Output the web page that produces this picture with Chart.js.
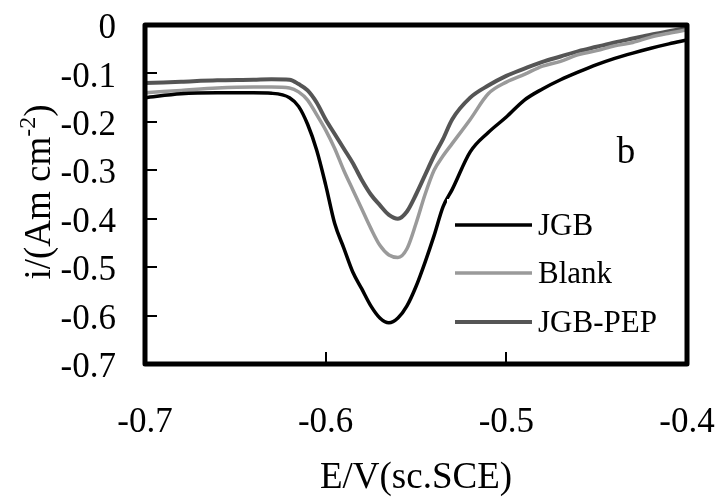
<!DOCTYPE html>
<html><head><meta charset="utf-8">
<script src="https://cdn.jsdelivr.net/npm/chart.js@4/dist/chart.umd.min.js"></script>
<style>html,body{margin:0;padding:0;background:#fff;}#wrap{width:718px;height:497px;}</style>
</head><body><div id="wrap"><canvas id="c" width="718" height="497"></canvas></div>
<script>
const potential = [-0.70,-0.68,-0.66,-0.64,-0.63,-0.62,-0.615,-0.61,-0.605,-0.60,-0.595,-0.59,-0.585,-0.58,-0.575,-0.57,-0.565,-0.56,-0.555,-0.55,-0.545,-0.54,-0.535,-0.53,-0.52,-0.51,-0.50,-0.49,-0.48,-0.47,-0.46,-0.45,-0.44,-0.43,-0.42,-0.41,-0.40];
const jgb = [-0.150,-0.142,-0.140,-0.140,-0.141,-0.150,-0.168,-0.205,-0.258,-0.330,-0.410,-0.460,-0.510,-0.545,-0.580,-0.605,-0.615,-0.605,-0.580,-0.540,-0.490,-0.435,-0.375,-0.340,-0.262,-0.222,-0.190,-0.155,-0.132,-0.113,-0.097,-0.082,-0.069,-0.058,-0.048,-0.039,-0.031];
const blank = [-0.140,-0.135,-0.130,-0.128,-0.128,-0.130,-0.138,-0.155,-0.185,-0.217,-0.255,-0.300,-0.340,-0.380,-0.420,-0.455,-0.475,-0.480,-0.462,-0.410,-0.350,-0.300,-0.270,-0.245,-0.195,-0.142,-0.118,-0.102,-0.085,-0.075,-0.061,-0.053,-0.043,-0.036,-0.025,-0.017,-0.010];
const jgbPep = [-0.120,-0.117,-0.114,-0.113,-0.112,-0.113,-0.122,-0.135,-0.160,-0.195,-0.225,-0.255,-0.285,-0.320,-0.350,-0.372,-0.392,-0.400,-0.385,-0.350,-0.310,-0.270,-0.235,-0.195,-0.150,-0.125,-0.105,-0.090,-0.076,-0.065,-0.054,-0.045,-0.036,-0.028,-0.020,-0.013,-0.006];
const seriesNames = ['JGB','Blank','JGB-PEP'];
const xTicks = [-0.7,-0.6,-0.5,-0.4];
const yTicks = [0,-0.1,-0.2,-0.3,-0.4,-0.5,-0.6,-0.7];
const panelLabel = 'b';
const xTitle = 'E/V(sc.SCE)';

const FONT = "'Liberation Serif','Times New Roman',serif";
const seriesStyle = [
  {color:'#000000', width:3.5},
  {color:'#9a9a9a', width:3.5},
  {color:'#555555', width:4}
];
const seriesData = [jgb, blank, jgbPep];

const fmt = v => Math.abs(v) < 1e-9 ? '0' : v.toFixed(1);

const decor = {
  id:'decor',
  afterDatasetsDraw(chart){
    const ctx = chart.ctx, ca = chart.chartArea;
    ctx.save();
    ctx.fillStyle = '#fff';
    ctx.fillRect(447, 199, ca.right - 447 - 3, 146);
    const rows = [225, 273, 322];
    ctx.font = "31px " + FONT;
    ctx.textBaseline = 'middle';
    ctx.textAlign = 'left';
    chart.data.datasets.forEach((ds, i) => {
      ctx.strokeStyle = ds.borderColor;
      ctx.lineWidth = ds.borderWidth;
      ctx.beginPath();
      ctx.moveTo(455, rows[i]); ctx.lineTo(532, rows[i]); ctx.stroke();
      ctx.fillStyle = '#000';
      ctx.fillText(ds.label, 538, rows[i] + 2);
    });
    ctx.font = "37px " + FONT;
    ctx.textAlign = 'center';
    ctx.textBaseline = 'alphabetic';
    ctx.fillText(panelLabel, 626, 163);
    ctx.restore();
  },
  afterDraw(chart){
    const ctx = chart.ctx, ca = chart.chartArea;
    const xs = chart.scales.x, ys = chart.scales.y;
    ctx.save();
    ctx.strokeStyle = '#000';
    ctx.lineWidth = 2;
    yTicks.forEach(v => {
      const p = Math.round(ys.getPixelForValue(v));
      ctx.beginPath(); ctx.moveTo(ca.left, p); ctx.lineTo(ca.left + 12, p); ctx.stroke();
    });
    xTicks.forEach(v => {
      const p = Math.round(xs.getPixelForValue(v));
      ctx.beginPath(); ctx.moveTo(p, ca.bottom); ctx.lineTo(p, ca.bottom - 12); ctx.stroke();
    });
    ctx.lineWidth = 5;
    ctx.lineJoin = 'round';
    ctx.strokeRect(ca.left, ca.top, ca.right - ca.left, ca.bottom - ca.top);
    ctx.translate(50, 192);
    ctx.rotate(-Math.PI / 2);
    ctx.fillStyle = '#000';
    ctx.textBaseline = 'alphabetic';
    ctx.textAlign = 'left';
    const main = 'i/(Am cm', sup = '-2', end = ')';
    ctx.font = "37px " + FONT;
    const w1 = ctx.measureText(main).width, w3 = ctx.measureText(end).width;
    ctx.font = "24px " + FONT;
    const w2 = ctx.measureText(sup).width;
    let x0 = -(w1 + w2 + w3) / 2;
    ctx.font = "37px " + FONT;
    ctx.fillText(main, x0, 0);
    ctx.font = "24px " + FONT;
    ctx.fillText(sup, x0 + w1, -15);
    ctx.font = "37px " + FONT;
    ctx.fillText(end, x0 + w1 + w2, 0);
    ctx.restore();
  }
};

new Chart(document.getElementById('c'), {
  type:'line',
  data:{
    datasets: seriesNames.map((name, i) => ({
      label: name,
      data: potential.map((e, k) => ({x:e, y:seriesData[i][k]})),
      borderColor: seriesStyle[i].color,
      borderWidth: seriesStyle[i].width,
      pointRadius: 0,
      cubicInterpolationMode: 'monotone',
      fill:false
    }))
  },
  options:{
    responsive:false,
    animation:false,
    devicePixelRatio:1,
    layout:{padding:{left:0,right:31,top:25,bottom:0}},
    plugins:{legend:{display:false}, tooltip:{enabled:false}},
    scales:{
      x:{
        type:'linear', min:-0.7, max:-0.4,
        afterBuildTicks: s => { s.ticks = xTicks.map(v => ({value:v})); },
        afterFit: s => { s.height = 133; s.paddingLeft = 0; s.paddingRight = 0; },
        grid:{display:false, drawTicks:false},
        border:{display:false},
        ticks:{color:'#000', font:{family:FONT, size:35}, padding:38, maxRotation:0, autoSkip:false, callback: v => fmt(v)},
        title:{display:true, text:xTitle, color:'#000', font:{family:FONT, size:37, lineHeight:1}, padding:{top:0,bottom:0}}
      },
      y:{
        type:'linear', min:-0.7, max:0,
        afterBuildTicks: s => { s.ticks = yTicks.map(v => ({value:v})); },
        afterFit: s => { s.width = 145; s.paddingTop = 0; s.paddingBottom = 0; },
        grid:{display:false, drawTicks:false},
        border:{display:false},
        ticks:{color:'#000', font:{family:FONT, size:35}, padding:29, labelOffset:4, autoSkip:false, callback: v => fmt(v)}
      }
    }
  },
  plugins:[decor]
});
</script>
</body></html>
